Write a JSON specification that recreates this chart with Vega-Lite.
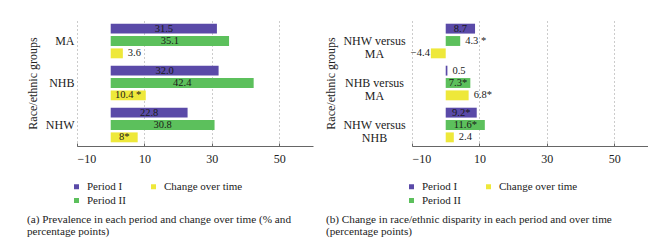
{
  "$schema": "https://vega.github.io/schema/vega-lite/v6.json",
  "padding": {"left": 26, "top": 20, "right": 0, "bottom": 0},
  "bounds": "flush",
  "spacing": 99,
  "datasets": {
    "bars": [
      {"panel": "a", "group": "MA", "series": "Period I", "value": 31.5, "label": "31.5"},
      {"panel": "a", "group": "MA", "series": "Period II", "value": 35.1, "label": "35.1"},
      {"panel": "a", "group": "MA", "series": "Change over time", "value": 3.6, "label": "3.6"},
      {"panel": "a", "group": "NHB", "series": "Period I", "value": 32.0, "label": "32.0"},
      {"panel": "a", "group": "NHB", "series": "Period II", "value": 42.4, "label": "42.4"},
      {"panel": "a", "group": "NHB", "series": "Change over time", "value": 10.4, "label": "10.4 *"},
      {"panel": "a", "group": "NHW", "series": "Period I", "value": 22.8, "label": "22.8"},
      {"panel": "a", "group": "NHW", "series": "Period II", "value": 30.8, "label": "30.8"},
      {"panel": "a", "group": "NHW", "series": "Change over time", "value": 8, "label": "8*"},
      {"panel": "b", "group": "NHW versus MA", "series": "Period I", "value": 8.7, "label": "8.7"},
      {"panel": "b", "group": "NHW versus MA", "series": "Period II", "value": 4.3, "label": "4.3 *"},
      {"panel": "b", "group": "NHW versus MA", "series": "Change over time", "value": -4.4, "label": "−4.4"},
      {"panel": "b", "group": "NHB versus MA", "series": "Period I", "value": 0.5, "label": "0.5"},
      {"panel": "b", "group": "NHB versus MA", "series": "Period II", "value": 7.3, "label": "7.3*"},
      {"panel": "b", "group": "NHB versus MA", "series": "Change over time", "value": 6.8, "label": "6.8*"},
      {"panel": "b", "group": "NHW versus NHB", "series": "Period I", "value": 9.2, "label": "9.2*"},
      {"panel": "b", "group": "NHW versus NHB", "series": "Period II", "value": 11.6, "label": "11.6*"},
      {"panel": "b", "group": "NHW versus NHB", "series": "Change over time", "value": 2.4, "label": "2.4"}
    ]
  },
  "data": {"name": "bars"},
  "resolve": {"scale": {"color": "independent", "x": "independent", "y": "independent", "yOffset": "independent"}, "legend": {"color": "independent"}},
  "hconcat": [
    {
      "width": 236,
      "height": 126,
      "title": {"text": ["(a)  Prevalence in each period and change over time (% and", "percentage points)"], "orient": "bottom", "anchor": "start", "frame": "group", "dx": -50, "offset": 8, "fontSize": 11.2, "fontWeight": "normal", "font": "Liberation Serif", "color": "#222", "lineHeight": 12},
      "transform": [{"filter": "datum.panel == 'a'"}],
      "encoding": {
        "y": {"field": "group", "type": "nominal", "sort": null, "scale": {"paddingInner": 0, "paddingOuter": 0}, "axis": {"title": "Race/ethnic groups", "domain": false, "ticks": false, "tickSize": 0, "labelPadding": 3, "labelAlign": "right", "labelFontSize": 12, "titleFontSize": 12, "titleFontWeight": "normal", "titlePadding": 6, "labelColor": "#222", "titleColor": "#222"}},
        "yOffset": {"field": "series", "type": "nominal", "sort": ["Period I", "Period II", "Change over time"], "scale": {"domain": ["Period I", "Period II", "Change over time"], "paddingInner": 0.2, "paddingOuter": 0.3}}
      },
      "layer": [
        {
          "mark": {"type": "bar"},
          "encoding": {
            "x": {"field": "value", "type": "quantitative", "scale": {"domain": [-10, 60], "nice": false, "zero": false}, "axis": {"title": null, "values": [-10, 10, 30, 50], "grid": true, "gridDash": [1, 3], "gridColor": "#999", "gridOpacity": 1, "domainColor": "#666", "tickColor": "#666", "tickSize": -3, "labelPadding": 10, "labelFontSize": 12, "labelColor": "#222"}},
            "color": {"field": "series", "type": "nominal", "scale": {"domain": ["Period I", "Change over time", "Period II"], "range": ["#5a4aa8", "#eee83a", "#5cc05c"]}, "legend": {"orient": "none", "legendX": -6, "legendY": 161, "title": null, "columns": 2, "direction": "horizontal", "symbolType": "square", "symbolSize": 25, "symbolStrokeWidth": 0, "labelFontSize": 11, "labelOffset": 5, "columnPadding": 22, "rowPadding": 2, "labelColor": "#222"}}
          }
        },
        {"mark": {"type": "rule", "color": "#333", "strokeWidth": 1}, "encoding": {"x": {"datum": 0}}},
        {
          "transform": [{"filter": "datum.value >= 7"}, {"calculate": "datum.value / 2", "as": "mid"}],
          "mark": {"type": "text", "align": "center", "baseline": "middle", "fontSize": 10.5, "color": "#1a1a1a"},
          "encoding": {"x": {"field": "mid", "type": "quantitative"}, "text": {"field": "label"}}
        },
        {
          "transform": [{"filter": "datum.value >= 0 && datum.value < 7"}],
          "mark": {"type": "text", "align": "left", "baseline": "middle", "dx": 5, "fontSize": 10.5, "color": "#1a1a1a"},
          "encoding": {"x": {"field": "value", "type": "quantitative"}, "text": {"field": "label"}}
        },
        {
          "transform": [{"filter": "datum.value < 0"}],
          "mark": {"type": "text", "align": "right", "baseline": "middle", "dx": -1, "fontSize": 10.5, "color": "#1a1a1a"},
          "encoding": {"x": {"field": "value", "type": "quantitative"}, "text": {"field": "label"}}
        }
      ]
    },
    {
      "width": 236,
      "height": 126,
      "title": {"text": ["(b)  Change in race/ethnic disparity in each period and over time", "(percentage points)"], "orient": "bottom", "anchor": "start", "frame": "group", "dx": -86, "offset": 8, "fontSize": 11.2, "fontWeight": "normal", "font": "Liberation Serif", "color": "#222", "lineHeight": 12},
      "transform": [{"filter": "datum.panel == 'b'"}],
      "encoding": {
        "y": {"field": "group", "type": "nominal", "sort": null, "scale": {"paddingInner": 0, "paddingOuter": 0}, "axis": {"title": "Race/ethnic groups", "domain": false, "ticks": false, "tickSize": 0, "labelPadding": 38, "labelAlign": "center", "labelExpr": "[substring(datum.label, 0, 10), substring(datum.label, 11)]", "labelLineHeight": 13, "labelFontSize": 12, "titleFontSize": 12, "titleFontWeight": "normal", "titlePadding": 5, "labelColor": "#222", "titleColor": "#222"}},
        "yOffset": {"field": "series", "type": "nominal", "sort": ["Period I", "Period II", "Change over time"], "scale": {"domain": ["Period I", "Period II", "Change over time"], "paddingInner": 0.2, "paddingOuter": 0.3}}
      },
      "layer": [
        {
          "mark": {"type": "bar"},
          "encoding": {
            "x": {"field": "value", "type": "quantitative", "scale": {"domain": [-10, 60], "nice": false, "zero": false}, "axis": {"title": null, "values": [-10, 10, 30, 50], "grid": true, "gridDash": [1, 3], "gridColor": "#999", "gridOpacity": 1, "domainColor": "#666", "tickColor": "#666", "tickSize": -3, "labelPadding": 10, "labelFontSize": 12, "labelColor": "#222"}},
            "color": {"field": "series", "type": "nominal", "scale": {"domain": ["Period I", "Change over time", "Period II"], "range": ["#5a4aa8", "#eee83a", "#5cc05c"]}, "legend": {"orient": "none", "legendX": -6, "legendY": 161, "title": null, "columns": 2, "direction": "horizontal", "symbolType": "square", "symbolSize": 25, "symbolStrokeWidth": 0, "labelFontSize": 11, "labelOffset": 5, "columnPadding": 22, "rowPadding": 2, "labelColor": "#222"}}
          }
        },
        {"mark": {"type": "rule", "color": "#333", "strokeWidth": 1}, "encoding": {"x": {"datum": 0}}},
        {
          "transform": [{"filter": "datum.value >= 7"}, {"calculate": "datum.value / 2", "as": "mid"}],
          "mark": {"type": "text", "align": "center", "baseline": "middle", "fontSize": 10.5, "color": "#1a1a1a"},
          "encoding": {"x": {"field": "mid", "type": "quantitative"}, "text": {"field": "label"}}
        },
        {
          "transform": [{"filter": "datum.value >= 0 && datum.value < 7"}],
          "mark": {"type": "text", "align": "left", "baseline": "middle", "dx": 5, "fontSize": 10.5, "color": "#1a1a1a"},
          "encoding": {"x": {"field": "value", "type": "quantitative"}, "text": {"field": "label"}}
        },
        {
          "transform": [{"filter": "datum.value < 0"}],
          "mark": {"type": "text", "align": "right", "baseline": "middle", "dx": -1, "fontSize": 10.5, "color": "#1a1a1a"},
          "encoding": {"x": {"field": "value", "type": "quantitative"}, "text": {"field": "label"}}
        }
      ]
    }
  ],
  "config": {
    "font": "Liberation Serif",
    "view": {"stroke": null},
    "bar": {"cornerRadius": 0}
  }
}
